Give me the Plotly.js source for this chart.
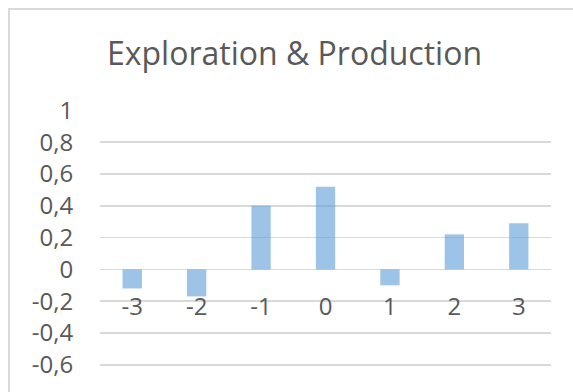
<!DOCTYPE html>
<html>
<head>
<meta charset="utf-8">
<script src="https://cdn.plot.ly/plotly-3.0.1.min.js"></script>
<style>
  html, body { margin: 0; padding: 0; background: #fff; overflow: hidden; }
  #frame { position: absolute; left: 8px; top: 8px; width: 700px; height: 500px;
           border-left: 2px solid #d9d9d9; border-top: 2px solid #d9d9d9; }
  #chart { position: absolute; left: 0; top: 0; width: 573px; height: 392px; }
</style>
</head>
<body>
<div id="frame"></div>
<div id="chart"></div>
<script>
// Period offsets around the event and the value for each period
const periods = ['-3', '-2', '-1', '0', '1', '2', '3'];
const values = [-0.12, -0.17, 0.40, 0.52, -0.10, 0.22, 0.29];
const yTicks = [-0.6, -0.4, -0.2, 0, 0.2, 0.4, 0.6, 0.8, 1];
const yTickText = ['-0,6', '-0,4', '-0,2', '0', '0,2', '0,4', '0,6', '0,8', '1'];
// a little room below the lowest gridline so it is drawn
const yRange = [-0.62, 1.002];

const textColor = '#595959';
const fontFamily = 'Open Sans, sans-serif';

const trace = {
  type: 'bar',
  x: periods,
  y: values,
  marker: { color: 'rgba(91,155,213,0.6)', line: { width: 0 } },
  hoverinfo: 'x+y'
};

// category labels sit along the zero line
const zeroPos = (0 - yRange[0]) / (yRange[1] - yRange[0]);

const layout = {
  width: 573,
  height: 392,
  margin: { l: 100, r: 22, t: 110, b: 24, pad: 0 },
  paper_bgcolor: 'rgba(0,0,0,0)',
  plot_bgcolor: 'rgba(0,0,0,0)',
  showlegend: false,
  bargap: 0.7,
  title: {
    text: 'Exploration & Production',
    font: { family: fontFamily, size: 32, color: textColor },
    x: 0.514, xref: 'container', xanchor: 'center',
    y: 0.862, yref: 'container', yanchor: 'middle'
  },
  xaxis: {
    type: 'category',
    anchor: 'free',
    position: zeroPos,
    showgrid: false,
    showline: false,
    zeroline: false,
    ticks: 'outside',
    ticklen: 16,
    tickcolor: 'rgba(0,0,0,0)',
    tickfont: { family: fontFamily, size: 24, color: textColor }
  },
  yaxis: {
    range: yRange,
    tickmode: 'array',
    tickvals: yTicks,
    ticktext: yTickText,
    showgrid: true,
    gridcolor: '#d9d9d9',
    gridwidth: 1.5,
    zeroline: true,
    zerolinecolor: '#d9d9d9',
    zerolinewidth: 1.5,
    showline: false,
    ticks: 'outside',
    ticklen: 21,
    tickcolor: 'rgba(0,0,0,0)',
    tickfont: { family: fontFamily, size: 24, color: textColor }
  }
};

Plotly.newPlot('chart', [trace], layout, { displayModeBar: false, staticPlot: true });
</script>
</body>
</html>
